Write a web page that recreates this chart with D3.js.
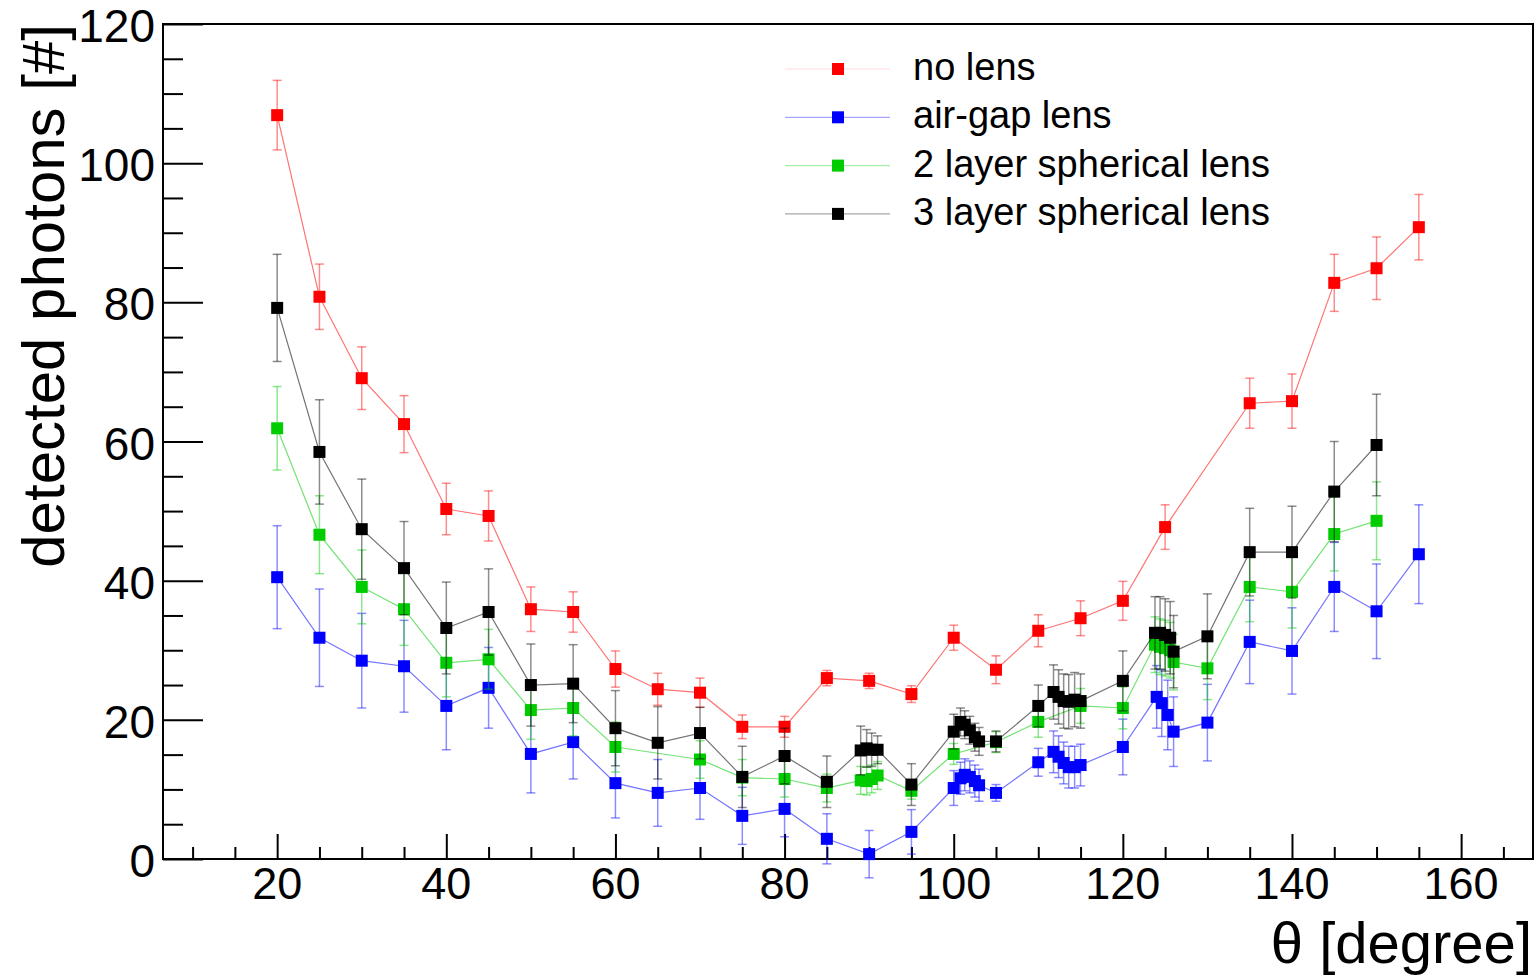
<!DOCTYPE html>
<meta charset="utf-8">
<script src="https://d3js.org/d3.v7.min.js"></script>
<div id="viz_area"></div>

<style>
    body {
        margin: 0;
        background: white;
        font-family: "Liberation Sans", Arial, sans-serif;
    }
</style>
<script>
    // data
    var noLensX = [20, 25, 30, 35, 40, 45, 50, 55, 60, 65, 70, 75, 80, 85, 90, 95, 100, 105, 110, 115, 120, 125, 135, 140, 145, 150, 155]
    var noLensY = [106.9, 80.8, 69.1, 62.5, 50.3, 49.3, 35.9, 35.5, 27.3, 24.4, 23.9, 19.0, 19.0, 26.0, 25.6, 23.7, 31.8, 27.2, 32.8, 34.6, 37.1, 47.7, 65.5, 65.8, 82.8, 84.9, 90.8]
    var noLensErr = [5.0, 4.7, 4.5, 4.1, 3.7, 3.6, 3.2, 2.9, 2.6, 2.3, 2.1, 1.7, 1.5, 1.1, 1.1, 1.2, 1.8, 2.0, 2.3, 2.5, 2.8, 3.2, 3.6, 3.9, 4.1, 4.5, 4.7]

    var airGapX = [20, 25, 30, 35, 40, 45, 50, 55, 60, 65, 70, 75, 80, 85, 90, 95, 100, 100.8, 101.3, 101.9, 102.5, 103, 105, 110, 111.8, 112.4, 113, 113.6, 114.3, 115, 120, 124, 124.6, 125.3, 126, 130, 135, 140, 145, 150, 155]
    var airGapY = [40.5, 31.8, 28.5, 27.7, 22.0, 24.6, 15.1, 16.8, 10.9, 9.5, 10.2, 6.2, 7.2, 2.9, 0.7, 3.9, 10.2, 11.6, 12.1, 11.8, 11.2, 10.6, 9.5, 13.9, 15.4, 14.7, 13.8, 13.2, 13.2, 13.5, 16.1, 23.3, 22.4, 20.7, 18.3, 19.6, 31.2, 29.9, 39.1, 35.6, 43.8]
    var airGapErr = [7.4, 7.0, 6.8, 6.6, 6.3, 5.8, 5.6, 5.3, 5.0, 4.8, 4.5, 4.1, 4.0, 3.6, 3.4, 3.2, 2.5, 2.3, 2.3, 2.3, 2.3, 2.3, 1.2, 2.0, 3.0, 3.0, 3.0, 3.0, 3.0, 3.0, 4.0, 4.5, 4.8, 5.0, 5.0, 5.5, 6.0, 6.2, 6.4, 6.8, 7.1]

    var twoLayerX = [20, 25, 30, 35, 40, 45, 50, 55, 60, 70, 75, 80, 85, 89, 89.7, 90.3, 91, 95, 100, 105, 110, 115, 120, 123.8, 124.4, 125, 125.6, 126, 130, 135, 140, 145, 150]
    var twoLayerY = [61.9, 46.6, 39.1, 35.9, 28.2, 28.7, 21.4, 21.7, 16.1, 14.3, 11.7, 11.5, 10.2, 11.3, 11.2, 11.5, 12.0, 9.8, 15.1, 16.8, 19.7, 22.0, 21.7, 30.8, 30.5, 30.3, 30.0, 28.3, 27.4, 39.1, 38.4, 46.7, 48.6]
    var twoLayerErr = [6.0, 5.6, 5.3, 5.2, 4.9, 4.3, 4.2, 4.0, 3.6, 2.7, 2.6, 2.6, 2.0, 2.0, 2.0, 2.0, 2.0, 1.2, 1.5, 1.5, 2.2, 2.5, 3.0, 4.0, 4.0, 4.0, 4.0, 4.0, 4.5, 5.0, 5.2, 5.3, 5.6]

    var threeLayerX = [20, 25, 30, 35, 40, 45, 50, 55, 60, 65, 70, 75, 80, 85, 89, 89.7, 90.3, 91, 95, 100, 100.8, 101.3, 101.9, 102.5, 103, 105, 110, 111.8, 112.4, 113, 113.6, 114.3, 115, 120, 123.8, 124.4, 125, 125.6, 126, 130, 135, 140, 145, 150]
    var threeLayerY = [79.2, 58.5, 47.4, 41.8, 33.2, 35.5, 25.0, 25.2, 18.8, 16.7, 18.1, 11.8, 14.8, 11.1, 15.6, 15.9, 15.7, 15.7, 10.7, 18.3, 19.7, 19.3, 18.5, 17.5, 16.9, 16.9, 22.0, 24.0, 23.3, 22.7, 22.6, 22.9, 22.7, 25.6, 32.5, 32.5, 32.2, 31.8, 29.8, 32.0, 44.1, 44.1, 52.8, 59.5]
    var threeLayerErr = [7.7, 7.5, 7.2, 6.7, 6.6, 6.2, 5.9, 5.6, 5.4, 5.2, 3.7, 4.4, 4.0, 3.7, 3.5, 2.7, 2.4, 2.0, 3.0, 2.5, 2.0, 2.0, 2.0, 2.0, 2.0, 1.5, 3.0, 3.9, 3.9, 3.9, 3.9, 3.9, 3.9, 4.3, 5.2, 5.2, 5.2, 5.2, 5.2, 6.1, 6.3, 6.6, 7.2, 7.3]

    var seriesNames = ["no lens", "air-gap lens", "2 layer spherical lens", "3 layer spherical lens"]
    var seriesColors = ["#ff0000", "#0000ff", "#00cc00", "#000000"]

    var xTicks = [20, 40, 60, 80, 100, 120, 140, 160]
    var yTicks = [0, 20, 40, 60, 80, 100, 120]

    var series = [
        { x: noLensX, y: noLensY, e: noLensErr },
        { x: airGapX, y: airGapY, e: airGapErr },
        { x: twoLayerX, y: twoLayerY, e: twoLayerErr },
        { x: threeLayerX, y: threeLayerY, e: threeLayerErr }
    ]

    var W = 1539, H = 976
    var frame = { left: 163, right: 1533, top: 24, bottom: 859 }
    var mk = 12

    var svG = d3.select("#viz_area")
        .append("svg")
        .attr("width", W)
        .attr("height", H)
        .style("display", "block")

    var x = d3.scaleLinear().domain([6.5, 168.5]).range([frame.left, frame.right])
    var y = d3.scaleLinear().domain([0, 120]).range([frame.bottom, frame.top])

    // axes (ROOT style: ticks inside the frame)
    var xAxis = svG.append("g")
        .attr("transform", "translate(0," + frame.bottom + ")")
        .call(d3.axisTop(x).tickValues(d3.range(10, 166, 5)).tickSize(12).tickFormat(""))
    xAxis.selectAll(".tick line").attr("y2", function(d) { return d % 20 == 0 ? -25 : -12 })

    var yAxis = svG.append("g")
        .attr("transform", "translate(" + frame.left + ",0)")
        .call(d3.axisRight(y).tickValues(d3.range(0, 121, 5)).tickSize(20).tickFormat(""))
    yAxis.selectAll(".tick line").attr("x2", function(d) { return d % 20 == 0 ? 40 : 20 })

    svG.selectAll(".domain").remove()
    svG.selectAll(".tick line").attr("stroke", "black").attr("stroke-width", 2)

    svG.append("rect")
        .attr("x", frame.left)
        .attr("y", frame.top)
        .attr("width", frame.right - frame.left)
        .attr("height", frame.bottom - frame.top)
        .attr("fill", "none")
        .attr("stroke", "black")
        .attr("stroke-width", 2)

    svG.append("g").selectAll("text")
        .data(xTicks)
        .enter().append("text")
        .attr("x", function(d) { return x(d) })
        .attr("y", 899)
        .attr("text-anchor", "middle")
        .attr("font-size", "45px")
        .text(function(d) { return d })

    svG.append("g").selectAll("text")
        .data(yTicks)
        .enter().append("text")
        .attr("x", 155)
        .attr("y", function(d) { return y(d) + 18 })
        .attr("text-anchor", "end")
        .attr("font-size", "46px")
        .text(function(d) { return d })

    svG.append("text")
        .attr("x", 1532)
        .attr("y", 963)
        .attr("text-anchor", "end")
        .attr("font-size", "58px")
        .text("θ [degree]")

    svG.append("text")
        .attr("transform", "translate(64,24) rotate(-90)")
        .attr("text-anchor", "end")
        .attr("font-size", "60px")
        .text("detected photons [#]")

    // series
    var line = d3.line()
        .x(function(d) { return x(d[0]) })
        .y(function(d) { return y(d[1]) })

    series.forEach(function(s, k) {
        var pts = s.x.map(function(v, i) { return [v, s.y[i], s.e[i]] })
        var col = seriesColors[k]
        var g = svG.append("g")

        g.append("path")
            .datum(pts)
            .attr("d", line)
            .attr("fill", "none")
            .attr("stroke", col)
            .attr("stroke-opacity", 0.55)
            .attr("stroke-width", 1.2)

        var eb = g.selectAll(".err")
            .data(pts)
            .enter().append("g")
            .attr("stroke", col)
            .attr("stroke-opacity", 0.45)
            .attr("stroke-width", 1.5)
        eb.append("line")
            .attr("x1", function(d) { return x(d[0]) })
            .attr("x2", function(d) { return x(d[0]) })
            .attr("y1", function(d) { return y(d[1] - d[2]) })
            .attr("y2", function(d) { return y(d[1] + d[2]) })
        eb.append("line")
            .attr("x1", function(d) { return x(d[0]) - 4.5 })
            .attr("x2", function(d) { return x(d[0]) + 4.5 })
            .attr("y1", function(d) { return y(d[1] + d[2]) })
            .attr("y2", function(d) { return y(d[1] + d[2]) })
        eb.append("line")
            .attr("x1", function(d) { return x(d[0]) - 4.5 })
            .attr("x2", function(d) { return x(d[0]) + 4.5 })
            .attr("y1", function(d) { return y(d[1] - d[2]) })
            .attr("y2", function(d) { return y(d[1] - d[2]) })

        g.selectAll(".mk")
            .data(pts)
            .enter().append("rect")
            .attr("x", function(d) { return x(d[0]) - mk / 2 })
            .attr("y", function(d) { return y(d[1]) - mk / 2 })
            .attr("width", mk)
            .attr("height", mk)
            .attr("fill", col)
    })

    // legend
    var legend = svG.selectAll(".legend")
        .data(seriesNames)
        .enter().append("g")
        .attr("class", "legend")
        .attr("transform", function(d, i) { return "translate(0," + (69 + i * 48.3) + ")" })

    legend.append("line")
        .attr("x1", 785)
        .attr("x2", 890)
        .attr("stroke", function(d, i) { return seriesColors[i] })
        .attr("stroke-opacity", function(d, i) { return i == 0 ? 0.15 : 0.35 })
        .attr("stroke-width", 1.2)

    legend.append("rect")
        .attr("x", 838 - mk / 2)
        .attr("y", -mk / 2)
        .attr("width", mk)
        .attr("height", mk)
        .attr("fill", function(d, i) { return seriesColors[i] })

    legend.append("text")
        .attr("x", 913)
        .attr("y", 11)
        .attr("font-size", "38px")
        .text(function(d) { return d })
</script>
